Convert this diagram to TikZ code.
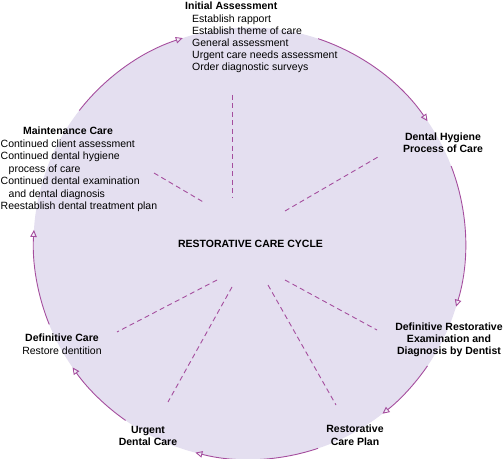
\documentclass[tikz,border=0pt]{standalone}
\usepackage{fontspec}
\setmainfont{Liberation Sans}
\usetikzlibrary{arrows.meta}
\definecolor{lav}{RGB}{228,223,240}
\definecolor{purp}{RGB}{165,78,158}
\begin{document}
\begin{tikzpicture}[x=1pt,y=1pt,
  txt/.style={inner sep=0pt,font=\fontsize{10.5}{12.4}\selectfont},
  ttl/.style={txt,font=\fontsize{10.5}{12.4}\selectfont\bfseries},
  cyc/.style={draw=purp,line width=0.9pt,-{Triangle[open,length=7pt,width=6.5pt]}},
  spoke/.style={draw=purp,line width=0.9pt,dash pattern=on 5pt off 3.5pt}]
\useasboundingbox (0,0) rectangle (503,458);
\coordinate (C) at (249.5,214.5);
\fill[lav] (C) circle[radius=216];
% cycle arcs
\draw[cyc] ([shift={(142:216)}]C) arc[start angle=142,end angle=108,radius=216];
\draw[cyc] ([shift={(71.5:216)}]C) arc[start angle=71.5,end angle=34.5,radius=216];
\draw[cyc] ([shift={(21:216)}]C) arc[start angle=21,end angle=-17,radius=216];
\draw[cyc] ([shift={(-34.5:216)}]C) arc[start angle=-34.5,end angle=-52,radius=216];
\draw[cyc] ([shift={(-71.5:216)}]C) arc[start angle=-71.5,end angle=-104.5,radius=216];
\draw[cyc] ([shift={(-125:216)}]C) arc[start angle=-125,end angle=-145,radius=216];
\draw[cyc] ([shift={(-158:216)}]C) arc[start angle=-158,end angle=-183.6,radius=216];
% spokes
\coordinate (s1a) at (232,363); \coordinate (s1b) at (232,260);
\coordinate (s2a) at (154,285); \coordinate (s2b) at (205,255);
\coordinate (s3a) at (285,247); \coordinate (s3b) at (378,301);
\coordinate (s4a) at (217,178); \coordinate (s4b) at (117,126);
\coordinate (s5a) at (232,171); \coordinate (s5b) at (168,56);
\coordinate (s6a) at (268,173); \coordinate (s6b) at (336,53);
\coordinate (s7a) at (285,178); \coordinate (s7b) at (377,128);
\foreach \p in {1,...,7} \draw[spoke] (s\p a) -- (s\p b);
% centre
\node[ttl,anchor=base] (centre) at (250.5,210.3) {RESTORATIVE CARE CYCLE};
% Initial Assessment
\node[ttl,anchor=base west] (ia) at (185,448) {Initial Assessment};
\foreach \t [count=\i] in {Establish rapport,Establish theme of care,General assessment,Urgent care needs assessment,Order diagnostic surveys}
  \node[txt,anchor=base west] (ia\i) at (192,448-\i*12.2) {\t};
% Dental hygiene
\node[ttl,anchor=base] (dh1) at (443,317) {Dental Hygiene};
\node[ttl,anchor=base] (dh2) at (443,305) {Process of Care};
% Definitive restorative
\node[ttl,anchor=base] (dr1) at (449,128) {Definitive Restorative};
\node[ttl,anchor=base] (dr2) at (449,115.6) {Examination and};
\node[ttl,anchor=base] (dr3) at (449,103.2) {Diagnosis by Dentist};
% Restorative care plan
\node[ttl,anchor=base] (rp1) at (355,26) {Restorative};
\node[ttl,anchor=base] (rp2) at (355,13) {Care Plan};
% Urgent dental care
\node[ttl,anchor=base] (ud1) at (148,25) {Urgent};
\node[ttl,anchor=base] (ud2) at (148,13) {Dental Care};
% Definitive care
\node[ttl,anchor=base] (dc1) at (62,117) {Definitive Care};
\node[txt,anchor=base] (dc2) at (62,103) {Restore dentition};
% Maintenance care
\node[ttl,anchor=base] (mc) at (68,323) {Maintenance Care};
\node[txt,anchor=base west] (mc1) at (0.5,310.5) {Continued client assessment};
\node[txt,anchor=base west] (mc2) at (0.5,298) {Continued dental hygiene};
\node[txt,anchor=base west] (mc3) at (8.5,285.5) {process of care};
\node[txt,anchor=base west] (mc4) at (0.5,273) {Continued dental examination};
\node[txt,anchor=base west] (mc5) at (8.5,260.5) {and dental diagnosis};
\node[txt,anchor=base west] (mc6) at (0.5,248) {Reestablish dental treatment plan};
\end{tikzpicture}
\end{document}
